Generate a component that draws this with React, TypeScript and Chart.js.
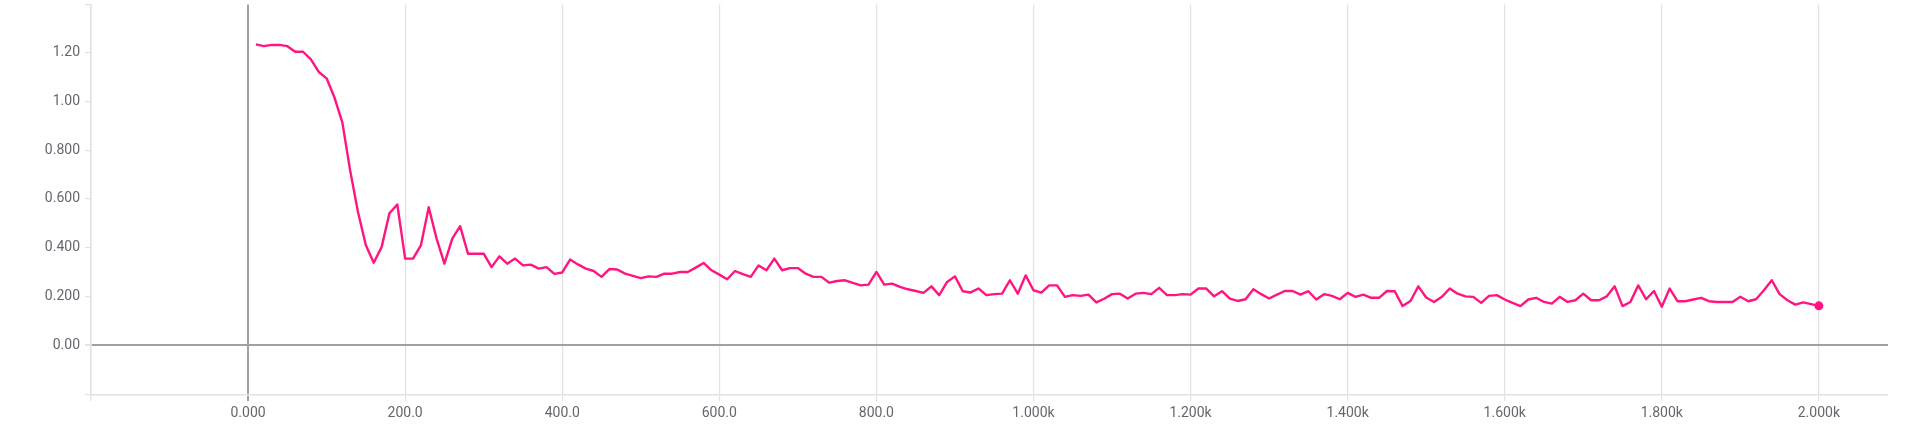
import React, { useEffect, useRef } from "react";
import { Chart, registerables } from "chart.js";

Chart.register(...registerables);

const steps: number[] = [
  10, 20, 30, 40, 50, 60, 70, 80, 90, 100,
  110, 120, 130, 140, 150, 160, 170, 180, 190, 200,
  210, 220, 230, 240, 250, 260, 270, 280, 290, 300,
  310, 320, 330, 340, 350, 360, 370, 380, 390, 400,
  410, 420, 430, 440, 450, 460, 470, 480, 490, 500,
  510, 520, 530, 540, 550, 560, 570, 580, 590, 600,
  610, 620, 630, 640, 650, 660, 670, 680, 690, 700,
  710, 720, 730, 740, 750, 760, 770, 780, 790, 800,
  810, 820, 830, 840, 850, 860, 870, 880, 890, 900,
  910, 920, 930, 940, 950, 960, 970, 980, 990, 1000,
  1010, 1020, 1030, 1040, 1050, 1060, 1070, 1080, 1090, 1100,
  1110, 1120, 1130, 1140, 1150, 1160, 1170, 1180, 1190, 1200,
  1210, 1220, 1230, 1240, 1250, 1260, 1270, 1280, 1290, 1300,
  1310, 1320, 1330, 1340, 1350, 1360, 1370, 1380, 1390, 1400,
  1410, 1420, 1430, 1440, 1450, 1460, 1470, 1480, 1490, 1500,
  1510, 1520, 1530, 1540, 1550, 1560, 1570, 1580, 1590, 1600,
  1610, 1620, 1630, 1640, 1650, 1660, 1670, 1680, 1690, 1700,
  1710, 1720, 1730, 1740, 1750, 1760, 1770, 1780, 1790, 1800,
  1810, 1820, 1830, 1840, 1850, 1860, 1870, 1880, 1890, 1900,
  1910, 1920, 1930, 1940, 1950, 1960, 1970, 1980, 1990, 2000,
];

const lossValues: number[] = [
  1.234, 1.227, 1.232, 1.232, 1.227, 1.204, 1.204, 1.173, 1.121, 1.095,
  1.016, 0.914, 0.716, 0.545, 0.41, 0.338, 0.402, 0.541, 0.577, 0.355,
  0.355, 0.409, 0.566, 0.437, 0.334, 0.437, 0.488, 0.375, 0.375, 0.375,
  0.32, 0.364, 0.334, 0.355, 0.327, 0.33, 0.314, 0.32, 0.292, 0.298,
  0.351, 0.331, 0.314, 0.304, 0.28, 0.312, 0.31, 0.293, 0.284, 0.275,
  0.282, 0.28, 0.293, 0.293, 0.3, 0.3, 0.318, 0.337, 0.307, 0.289,
  0.27, 0.304, 0.291, 0.28, 0.327, 0.307, 0.355, 0.307, 0.316, 0.316,
  0.293, 0.28, 0.28, 0.256, 0.263, 0.266, 0.255, 0.245, 0.248, 0.3,
  0.248, 0.252, 0.239, 0.229, 0.222, 0.214, 0.241, 0.205, 0.259, 0.282,
  0.221, 0.216, 0.232, 0.205, 0.209, 0.211, 0.266, 0.211, 0.286, 0.225,
  0.215, 0.245, 0.245, 0.198, 0.205, 0.202, 0.207, 0.175, 0.19, 0.209,
  0.211, 0.191, 0.211, 0.214, 0.209, 0.235, 0.205, 0.205, 0.209, 0.207,
  0.232, 0.232, 0.2, 0.221, 0.191, 0.181, 0.188, 0.229, 0.209, 0.191,
  0.207, 0.222, 0.222, 0.207, 0.221, 0.187, 0.209, 0.202, 0.188, 0.214,
  0.198, 0.207, 0.194, 0.194, 0.222, 0.221, 0.16, 0.181, 0.241, 0.195,
  0.177, 0.198, 0.232, 0.211, 0.2, 0.198, 0.173, 0.202, 0.205, 0.187,
  0.173, 0.16, 0.187, 0.194, 0.177, 0.17, 0.198, 0.177, 0.184, 0.211,
  0.184, 0.184, 0.2, 0.241, 0.16, 0.177, 0.245, 0.188, 0.222, 0.157,
  0.232, 0.18, 0.18, 0.187, 0.194, 0.18, 0.177, 0.177, 0.177, 0.198,
  0.18, 0.188, 0.225, 0.266, 0.209, 0.184, 0.166, 0.175, 0.168, 0.161,
];

const xTickValues: number[] = [0, 200, 400, 600, 800, 1000, 1200, 1400, 1600, 1800, 2000];
const xTickLabels: string[] = [
  "0.000", "200.0", "400.0", "600.0", "800.0",
  "1.000k", "1.200k", "1.400k", "1.600k", "1.800k", "2.000k",
];
const yTickValues: number[] = [0, 0.2, 0.4, 0.6, 0.8, 1.0, 1.2];
const yTickLabels: string[] = ["0.00", "0.200", "0.400", "0.600", "0.800", "1.00", "1.20"];

const X_MIN = -200;
const X_MAX = 2088;
const Y_MIN = -0.205;
const Y_MAX = 1.398;

const LINE_COLOR = "#ff1480";
const GRID_COLOR = "#e2e2e2";
const ZERO_COLOR = "#a0a0a0";
const LABEL_COLOR = "#66666e";

function labelFor(values: number[], labels: string[], v: number): string {
  for (let i = 0; i < values.length; i++) {
    if (Math.abs(values[i] - v) < 1e-9) return labels[i];
  }
  return "";
}

export default function App() {
  const canvasRef = useRef<HTMLCanvasElement | null>(null);

  useEffect(() => {
    const canvas = canvasRef.current;
    if (!canvas) return;
    const data = steps.map((s, i) => ({ x: s, y: lossValues[i] }));
    const radii = steps.map((_, i) => (i === steps.length - 1 ? 4.5 : 0));

    const chart = new Chart(canvas, {
      type: "line",
      data: {
        datasets: [
          {
            data,
            borderColor: LINE_COLOR,
            backgroundColor: LINE_COLOR,
            borderWidth: 2.4,
            pointRadius: radii,
            pointHoverRadius: radii,
            pointBorderWidth: 0,
            tension: 0,
            fill: false,
            borderJoinStyle: "round",
          },
        ],
      },
      options: {
        animation: false,
        responsive: false,
        events: [],
        layout: { padding: { top: 3, right: 31, left: 0, bottom: 0 } },
        plugins: { legend: { display: false }, tooltip: { enabled: false } },
        scales: {
          x: {
            type: "linear",
            min: X_MIN,
            max: X_MAX,
            afterBuildTicks: (scale: any) => {
              scale.ticks = [{ value: X_MIN }, ...xTickValues.map((v) => ({ value: v }))];
            },
            afterFit: (scale: any) => {
              scale.height = 33;
              scale.paddingLeft = 0;
              scale.paddingRight = 0;
            },
            ticks: {
              autoSkip: false,
              maxRotation: 0,
              minRotation: 0,
              padding: 4,
              color: LABEL_COLOR,
              font: { family: "Roboto", size: 14 },
              callback: (v: any) => labelFor(xTickValues, xTickLabels, Number(v)),
            },
            grid: {
              drawTicks: true,
              tickLength: 6,
              color: (ctx: any) => (ctx.tick && ctx.tick.value === 0 ? ZERO_COLOR : GRID_COLOR),
              lineWidth: (ctx: any) => (ctx.tick && ctx.tick.value === 0 ? 2 : 1.2),
              tickColor: (ctx: any) => (ctx.tick && ctx.tick.value === 0 ? ZERO_COLOR : GRID_COLOR),
            },
            border: { display: true, color: GRID_COLOR, width: 1.6 },
          },
          y: {
            type: "linear",
            min: Y_MIN,
            max: Y_MAX,
            afterBuildTicks: (scale: any) => {
              scale.ticks = [
                { value: Y_MIN },
                ...yTickValues.map((v) => ({ value: v })),
                { value: Y_MAX },
              ];
            },
            afterFit: (scale: any) => {
              scale.width = 91;
              scale.paddingTop = 0;
              scale.paddingBottom = 0;
            },
            ticks: {
              autoSkip: false,
              padding: 5,
              color: LABEL_COLOR,
              font: { family: "Roboto", size: 14 },
              callback: (v: any) => labelFor(yTickValues, yTickLabels, Number(v)),
            },
            grid: {
              drawTicks: true,
              tickLength: 6,
              color: (ctx: any) =>
                ctx.tick && ctx.tick.value === 0 ? ZERO_COLOR : "rgba(0,0,0,0)",
              lineWidth: (ctx: any) => (ctx.tick && ctx.tick.value === 0 ? 2 : 1.2),
              tickColor: GRID_COLOR,
            },
            border: { display: true, color: GRID_COLOR, width: 1.6 },
          },
        },
      },
    } as any);

    return () => chart.destroy();
  }, []);

  return (
    <div style={{ position: "absolute", left: 0, top: 0, width: 1919, height: 428 }}>
      <canvas ref={canvasRef} width={1919} height={428} style={{ display: "block" }} />
    </div>
  );
}
